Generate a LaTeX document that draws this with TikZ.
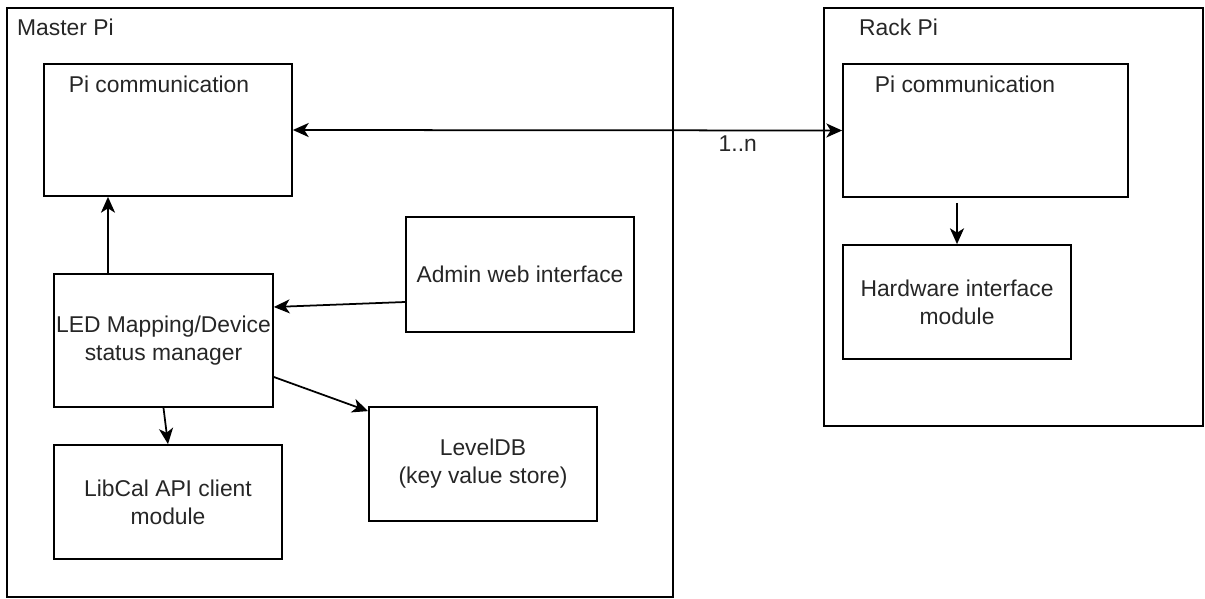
\documentclass[tikz,border=0pt]{standalone}
\usepackage{fontspec}
\setmainfont{Liberation Sans}
\usetikzlibrary{arrows.meta}

\begin{document}
\begin{tikzpicture}[
    box/.style={draw, line width=1pt, rectangle, inner sep=0pt},
    txt/.style={font=\fontsize{13}{16}\selectfont, text=black!85, align=center},
    tip/.tip={Stealth[length=9pt,width=8pt,inset=2.5pt]},
    arr/.style={draw, line width=1pt, -tip}
]
\useasboundingbox (0,0) rectangle (24.1,-11.98);

% outer devices
\node[box, minimum width=13.32cm, minimum height=11.78cm] (master) at (6.8,-6.05) {};
\node[txt, anchor=west] (masterlbl) at (0.22,-0.54) {Master Pi};
\node[box, minimum width=7.58cm, minimum height=8.36cm] (rack) at (20.27,-4.34) {};
\node[txt] (racklbl) at (17.97,-0.54) {Rack Pi};

% master modules
\node[box, minimum width=4.96cm, minimum height=2.64cm] (mcomm) at (3.36,-2.6) {};
\node[txt] (mcommlbl) at (3.18,-1.68) {Pi communication};
\node[box, txt, minimum width=4.56cm, minimum height=2.3cm] (admin) at (10.4,-5.49) {Admin web interface};
\node[box, txt, minimum width=4.38cm, minimum height=2.66cm] (led) at (3.27,-6.81) {LED Mapping/Device\\status manager};
\node[box, txt, minimum width=4.56cm, minimum height=2.28cm] (leveldb) at (9.66,-9.28) {LevelDB\\(key value store)};
\node[box, txt, minimum width=4.56cm, minimum height=2.28cm] (libcal) at (3.36,-10.04) {LibCal API client\\module};

% rack modules
\node[box, minimum width=5.7cm, minimum height=2.66cm] (rcomm) at (19.71,-2.61) {};
\node[txt] (rcommlbl) at (19.3,-1.68) {Pi communication};
\node[box, txt, minimum width=4.56cm, minimum height=2.28cm] (hw) at (19.14,-6.04) {Hardware interface\\module};

\path[arr,tip-tip] (mcomm.east) -- node[txt, pos=0.81, below=-1pt] {1..n} (rcomm.west);
\path[arr] ([xshift=-1.11cm]led.north) -- ([xshift=-1.2cm]mcomm.south);
\path[arr] ([yshift=-0.55cm]admin.west) -- ([yshift=0.67cm]led.east);
\path[arr] ([yshift=-0.73cm]led.east) -- ([yshift=-0.1cm]leveldb.north west);
\path[arr] (led.south) -- (libcal.north);
\path[arr] ([xshift=-0.57cm,yshift=-0.1cm]rcomm.south) -- (hw.north);
\end{tikzpicture}
\end{document}
